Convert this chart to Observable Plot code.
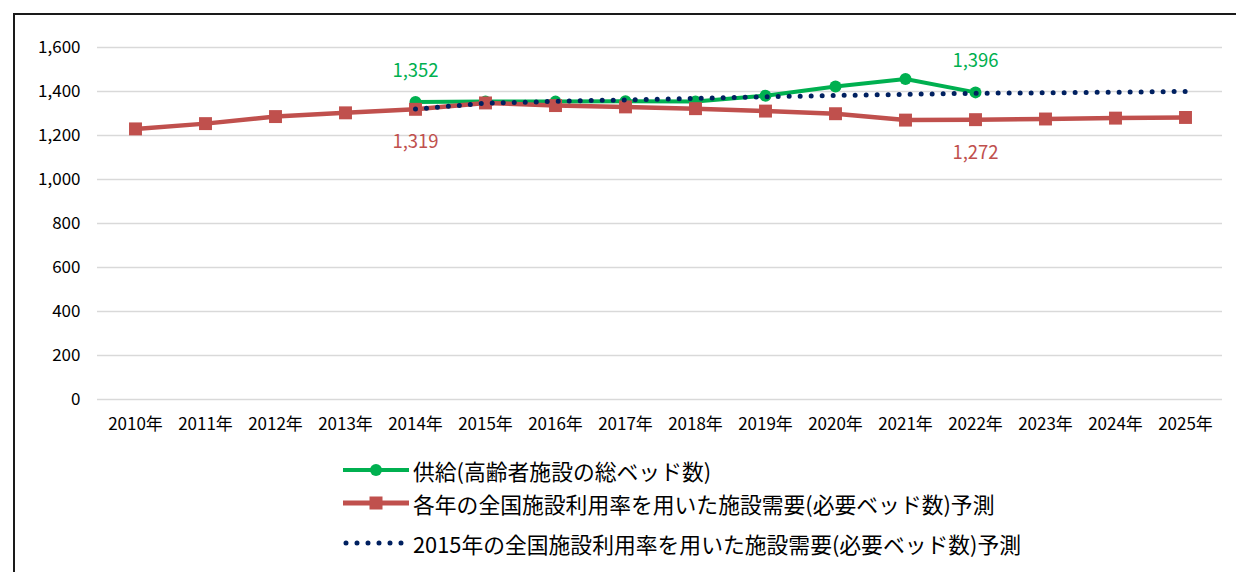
<!DOCTYPE html>
<html><head><meta charset="utf-8">
<script src="https://cdn.jsdelivr.net/npm/d3@7"></script>
<script src="https://cdn.jsdelivr.net/npm/@observablehq/plot@0.6"></script>
<style>
body{margin:0;background:#fff;font-family:"Noto Sans CJK JP",sans-serif;}
#wrap{position:relative;width:1236px;height:572px;overflow:hidden;background:#fff;}
#frame{position:absolute;left:13px;top:13px;width:1400px;height:800px;border:2px solid #1a1a1a;box-sizing:border-box;}
#chart{position:absolute;left:0;top:0;}
.leg{position:absolute;left:343px;height:28px;display:flex;align-items:center;font-size:21.8px;color:#000;white-space:nowrap;}
.leg svg{margin-right:4px;}
</style></head>
<body>
<div id="wrap"><div id="frame"></div><div id="chart"></div><div id="legend"></div></div>
<script>
const years = ["2010年","2011年","2012年","2013年","2014年","2015年","2016年","2017年","2018年","2019年","2020年","2021年","2022年","2023年","2024年","2025年"];
const supplyYears = ["2014年","2015年","2016年","2017年","2018年","2019年","2020年","2021年","2022年"];
const supplyValues = [1352,1354,1354,1356,1355,1381,1423,1457,1396];
const demandValues = [1230,1254,1286,1303,1319,1348,1336,1330,1322,1311,1299,1270,1272,1275,1279,1282];
const fixedYears = ["2014年","2015年","2016年","2017年","2018年","2019年","2020年","2021年","2022年","2023年","2024年","2025年"];
const fixedValues = [1320,1347,1355,1362,1369,1376,1382,1387,1392,1394,1397,1400];
const yTicks = [0,200,400,600,800,1000,1200,1400,1600];
const labelYears = ["2014年","2022年"];
const seriesNames = ["供給(高齢者施設の総ベッド数)","各年の全国施設利用率を用いた施設需要(必要ベッド数)予測","2015年の全国施設利用率を用いた施設需要(必要ベッド数)予測"];

const green="#00b050", red="#c0504d", navy="#002060";
const supply = supplyYears.map((y,i)=>({year:y,v:supplyValues[i]}));
const demand = years.map((y,i)=>({year:y,v:demandValues[i]}));
const fixed = fixedYears.map((y,i)=>({year:y,v:fixedValues[i]}));
const supplyLab = supply.filter(d=>labelYears.includes(d.year));
const demandLab = demand.filter(d=>labelYears.includes(d.year));
const fmt = d3.format(",");

const chart = Plot.plot({
  width:1236, height:445, marginTop:47, marginBottom:46, marginLeft:97, marginRight:14,
  style:{fontFamily:"'Noto Sans CJK JP', sans-serif", fontSize:"17px", color:"#000", background:"transparent"},
  x:{type:"point", domain:years, padding:0.5, label:null, tickSize:0, tickPadding:18},
  y:{domain:[0,1600], ticks:8, tickFormat:fmt, label:null, tickSize:0, tickPadding:17},
  marks:[
    Plot.ruleY(yTicks,{stroke:"#d9d9d9", strokeWidth:1.5}),
    Plot.line(supply,{x:"year",y:"v",stroke:green,strokeWidth:4}),
    Plot.dot(supply,{x:"year",y:"v",r:6,fill:green}),
    Plot.line(demand,{x:"year",y:"v",stroke:red,strokeWidth:4.5}),
    Plot.dot(demand,{x:"year",y:"v",r:7.3,symbol:"square",fill:red}),
    Plot.line(fixed,{x:"year",y:"v",stroke:navy,strokeWidth:5,strokeDasharray:"0 11",strokeLinecap:"round"}),
    Plot.text(supplyLab,{x:"year",y:"v",text:d=>fmt(d.v),dy:-31,fill:green,fontSize:18.5}),
    Plot.text(demandLab,{x:"year",y:"v",text:d=>fmt(d.v),dy:33,fill:red,fontSize:18.5})
  ]
});
document.getElementById("chart").appendChild(chart);

const swatches = [
  `<svg width="66" height="20"><line x1="0" x2="66" y1="10" y2="10" stroke="${green}" stroke-width="4"/><circle cx="33" cy="10" r="6" fill="${green}"/></svg>`,
  `<svg width="66" height="20"><line x1="0" x2="66" y1="10" y2="10" stroke="${red}" stroke-width="5"/><rect x="26.5" y="3.5" width="13" height="13" fill="${red}"/></svg>`,
  `<svg width="66" height="20"><line x1="3" x2="60" y1="10" y2="10" stroke="${navy}" stroke-width="5" stroke-dasharray="0 11" stroke-linecap="round"/></svg>`
];
const legTops = [456,489,529];
const leg = document.getElementById("legend");
seriesNames.forEach((n,i)=>{
  const d = document.createElement("div");
  d.className="leg"; d.style.top=legTops[i]+"px";
  d.innerHTML = swatches[i]+`<span>${n}</span>`;
  leg.appendChild(d);
});
</script>
</body></html>
